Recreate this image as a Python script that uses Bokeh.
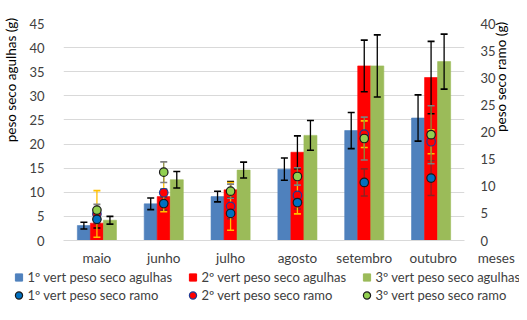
import math
from bokeh.plotting import figure
from bokeh.layouts import column
from bokeh.models import (Plot, Range1d, LinearAxis, FixedTicker, Whisker, TeeHead,
                          ColumnDataSource, Legend, LegendItem)
from bokeh.embed import file_html
from bokeh.resources import INLINE

# ---------------- data ----------------
months = ["maio", "junho", "julho", "agosto", "setembro", "outubro"]

ag1 = [3.1, 7.6, 9.1, 14.8, 22.8, 25.4]
ag1_err = [0.7, 1.2, 1.1, 2.3, 3.75, 4.8]
ag2 = [3.6, 9.1, 10.5, 18.3, 36.2, 33.8]
ag2_err = [1.0, 1.5, 1.7, 3.4, 5.35, 7.5]
ag3 = [4.2, 12.6, 14.6, 21.8, 36.2, 37.1]
ag3_err = [0.8, 1.7, 1.65, 3.1, 6.45, 5.7]

r1 = [3.9, 6.8, 5.0, 7.0, 10.7, 11.5]
r1_err = [0.8, 1.2, 1.0, 1.2, 2.5, 3.2]
r2 = [4.9, 8.8, 6.3, 8.3, 19.6, 18.2]
r2_err = [4.3, 3.5, 4.4, 3.4, 2.45, 2.2]
r3 = [5.6, 12.6, 9.1, 11.8, 18.8, 19.5]
r3_err = [1.05, 1.9, 1.3, 1.6, 3.95, 5.35]

left_ticks = [0, 5, 10, 15, 20, 25, 30, 35, 40, 45]
right_ticks = [0, 5, 10, 15, 20, 25, 30, 35, 40]

names_ag = ["1º vert peso seco agulhas", "2º vert peso seco agulhas", "3º vert peso seco agulhas"]
names_r = ["1º vert peso seco ramo", "2º vert peso seco ramo", "3º vert peso seco ramo"]
x_title = "meses"
y_title_left = "peso seco agulhas (g)"
y_title_right = "peso seco ramo (g)"

# ---------------- style ----------------
FONT = "Lato"
C_BLUE = "#4F81BD"
C_RED = "#FF0000"
C_GREEN = "#9BBB59"
GRID = "#D9D9D9"
TXT = "#404040"
NB = "\u00a0"

n = len(months)
idx = list(range(n))
W = 0.195
xs = [[i - W for i in idx], idx, [i + W for i in idx]]

p = figure(width=519, height=268, x_range=Range1d(-0.5, n - 0.5),
           y_range=Range1d(left_ticks[0], left_ticks[-1]),
           output_backend="svg", toolbar_location=None,
           min_border_left=55, min_border_right=51, min_border_top=23,
           min_border_bottom=26)
p.extra_y_ranges = {"ramo": Range1d(right_ticks[0], right_ticks[-1])}
p.outline_line_color = None
p.background_fill_color = "white"
p.border_fill_color = "white"

# axes ("meses" is written after the last category label, as in the original)
labels = {i: m for i, m in enumerate(months)}
labels[n - 1] = NB * 18 + months[-1] + NB * 6 + x_title
p.xaxis.ticker = FixedTicker(ticks=idx)
p.xaxis.major_label_overrides = labels
p.xaxis.axis_line_color = GRID
p.xaxis.major_tick_line_color = None
p.xaxis.minor_tick_line_color = None
p.xaxis.major_label_standoff = 3
p.xaxis.major_label_text_font = FONT
p.xaxis.major_label_text_font_size = "13.5px"
p.xaxis.major_label_text_color = TXT

p.yaxis.ticker = FixedTicker(ticks=left_ticks)
p.yaxis.axis_line_color = None
p.yaxis.major_tick_line_color = None
p.yaxis.minor_tick_line_color = None
p.yaxis.major_label_standoff = 13
p.yaxis.major_label_text_font = FONT
p.yaxis.major_label_text_font_size = "13px"
p.yaxis.major_label_text_color = TXT
p.yaxis.axis_label = NB * 30 + y_title_left
p.yaxis.axis_label_text_font = FONT
p.yaxis.axis_label_text_font_size = "13.5px"
p.yaxis.axis_label_text_font_style = "normal"
p.yaxis.axis_label_text_color = "black"
p.yaxis.axis_label_standoff = 7

ra = LinearAxis(y_range_name="ramo", ticker=FixedTicker(ticks=right_ticks))
ra.axis_line_color = None
ra.major_tick_line_color = None
ra.minor_tick_line_color = None
ra.major_label_standoff = 10
ra.major_label_text_font = FONT
ra.major_label_text_font_size = "13px"
ra.major_label_text_color = TXT
ra.axis_label = y_title_right
ra.axis_label_orientation = math.pi / 2
ra.axis_label_text_font = FONT
ra.axis_label_text_font_size = "13.5px"
ra.axis_label_text_font_style = "normal"
ra.axis_label_text_color = "black"
ra.axis_label_standoff = 2
p.add_layout(ra, "right")

p.xgrid.grid_line_color = None
p.ygrid.grid_line_color = GRID
p.ygrid.grid_line_width = 1

# bars
bar_colors = [C_BLUE, C_RED, C_GREEN]
ag_vals = [ag1, ag2, ag3]
ag_errs = [ag1_err, ag2_err, ag3_err]
for k in range(3):
    p.vbar(x=xs[k], top=ag_vals[k], width=W, bottom=0, fill_color=bar_colors[k],
           line_color=bar_colors[k], line_alpha=0.6)

def add_whisker(x, vals, errs, color, cap_color, range_name="default"):
    src = ColumnDataSource(dict(
        x=x,
        lo=[v - e for v, e in zip(vals, errs)],
        hi=[v + e for v, e in zip(vals, errs)]))
    w = Whisker(source=src, base="x", lower="lo", upper="hi",
                line_color=color, line_width=1.3, level="guide",
                upper_head=TeeHead(size=7, line_color=cap_color, line_width=1.6),
                lower_head=TeeHead(size=7, line_color=cap_color, line_width=1.6))
    if range_name != "default":
        w.y_range_name = range_name
    p.add_layout(w)

for k in range(3):
    add_whisker(xs[k], ag_vals[k], ag_errs[k], "black", "black")

# point series (right axis)
add_whisker(xs[1], r1, r1_err, "#8B2323", "#8B2323", "ramo")
add_whisker(xs[1], r2, r2_err, "#FFC000", "#FFC000", "ramo")
add_whisker(xs[1], r3, r3_err, "#8C8C3C", "#7F7F7F", "ramo")

pt_fill = ["#0070C0", "#FF0000", "#92D050"]
pt_line = ["#1A1A1A", "#1F3A93", "#1A1A1A"]
r_vals = [r1, r2, r3]
for k in [1, 0, 2]:
    p.scatter(x=xs[1], y=r_vals[k], y_range_name="ramo", marker="circle",
              size=8.5, fill_color=pt_fill[k], line_color=pt_line[k],
              line_width=1.2, level="annotation")

# ---------------- legend strip ----------------
q = figure(width=519, height=36, x_range=Range1d(0, 1), y_range=Range1d(0, 1),
           output_backend="svg", toolbar_location=None,
           x_axis_type=None, y_axis_type=None, min_border=0)
q.outline_line_color = None
q.xgrid.visible = False
q.ygrid.visible = False
q.background_fill_color = "white"
q.border_fill_color = "white"

off = [-1]   # proxy glyphs for the legend, outside the visible range
items = []
for k in range(3):
    pr = q.scatter(x=off, y=off, marker="square", fill_color=bar_colors[k],
                   line_color=bar_colors[k])
    items.append(LegendItem(label=names_ag[k], renderers=[pr]))
for k in range(3):
    pr = q.scatter(x=off, y=off, marker="circle", fill_color=pt_fill[k],
                   line_color=pt_line[k], line_width=1.2)
    items.append(LegendItem(label=names_r[k], renderers=[pr]))

legend = Legend(items=items, orientation="horizontal", ncols=3,
                location=(8.5, 0), padding=0, margin=0, spacing=0,
                glyph_width=19, glyph_height=18, label_height=18, label_width=155,
                label_standoff=-2, label_text_font=FONT, label_text_font_size="13px",
                label_text_color=TXT, border_line_color=None,
                background_fill_alpha=0)
q.add_layout(legend)

if "frame_align" in Plot.properties():
    p.frame_align = False
    q.frame_align = False
    html = file_html(column(p, q, spacing=0), INLINE)
else:
    html = file_html([p, q], INLINE)

open("out.html", "w").write(html)
